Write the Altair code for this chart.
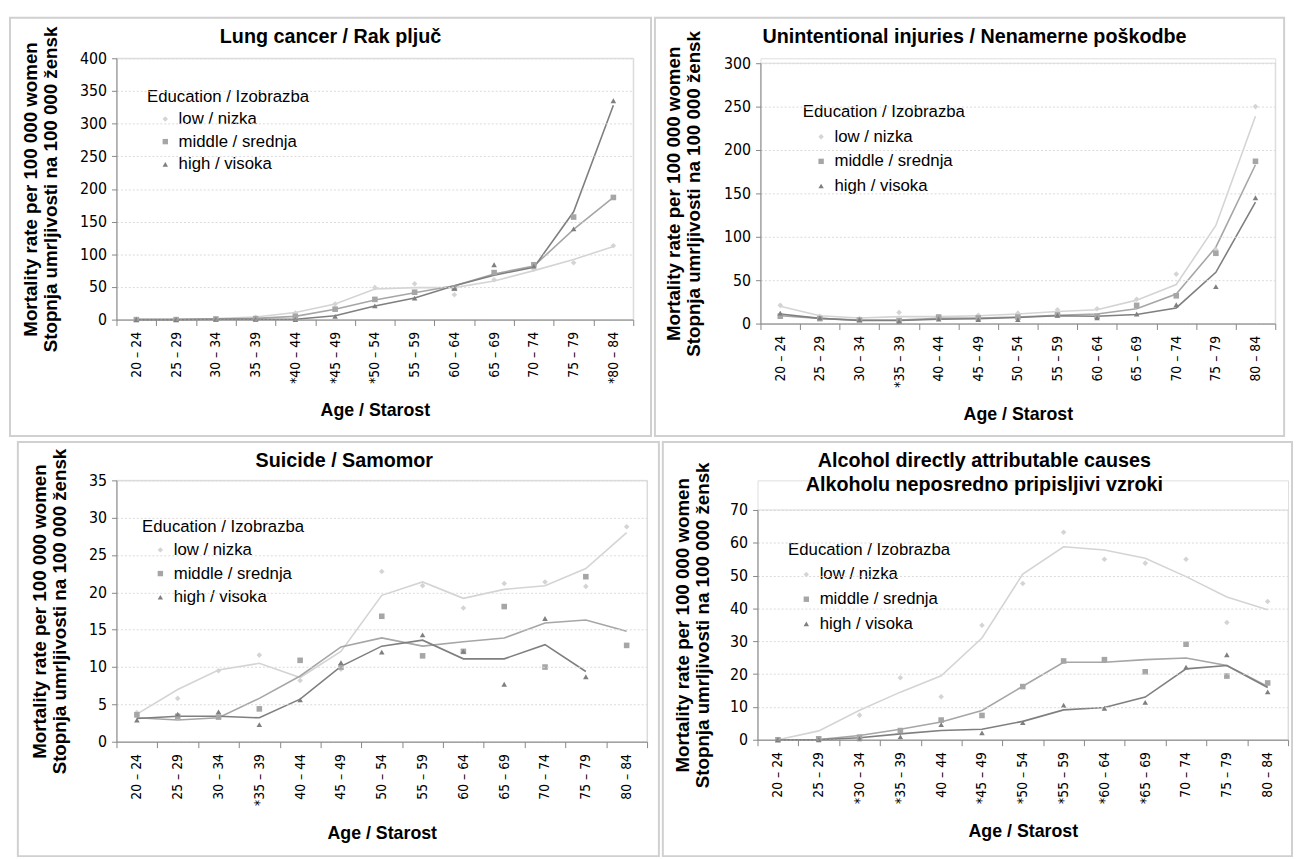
import altair as alt
import pandas as pd

SERIES = ["low / nizka", "middle / srednja", "high / visoka"]
LINE_KEYS = ["low", "middle", "high"]
MARK_COLORS = ["#d4d4d4", "#a6a6a6", "#7f7f7f"]
LINE_COLORS = ["#d4d4d4", "#a6a6a6", "#7f7f7f"]
SHAPES = ["diamond", "square", "triangle-up"]

AGES_LUNG = ["20 – 24", "25 – 29", "30 – 34", "35 – 39", "*40 – 44", "*45 – 49", "*50 – 54",
             "55 – 59", "60 – 64", "65 – 69", "70 – 74", "75 – 79", "*80 – 84"]
AGES_INJ = ["20 – 24", "25 – 29", "30 – 34", "*35 – 39", "40 – 44", "45 – 49", "50 – 54",
            "55 – 59", "60 – 64", "65 – 69", "70 – 74", "75 – 79", "80 – 84"]
AGES_SUI = ["20 – 24", "25 – 29", "30 – 34", "*35 – 39", "40 – 44", "45 – 49", "50 – 54",
            "55 – 59", "60 – 64", "65 – 69", "70 – 74", "75 – 79", "80 – 84"]
AGES_ALC = ["20 – 24", "25 – 29", "*30 – 34", "*35 – 39", "40 – 44", "*45 – 49", "*50 – 54",
            "*55 – 59", "*60 – 64", "*65 – 69", "70 – 74", "75 – 79", "80 – 84"]

LUNG_LOW = [0.5, 0.5, 1.5, 3.5, 10, 24, 49, 55, 38, 61, 77, 87, 113]
LUNG_LOW_T = [0.5, 0.7, 1.5, 4, 11, 24, 47, 49, 49, 59, 75, 92, 112]
LUNG_MID = [0, 0, 1, 1.5, 5, 16, 31, 42, 48, 72, 84, 157, 187]
LUNG_MID_T = [0, 0, 1, 2, 5, 16, 30, 41, 52, 70, 82, 138, 187]
LUNG_HIGH = [0, 0, 0.5, 0.5, 0, 5, 21, 33, 48, 84, 82, 139, 335]
LUNG_HIGH_T = [0, 0, 0.5, 0.5, 0.5, 6, 21, 33, 52, 68, 80, 165, 328]

INJ_LOW = [21, 8.4, 5.7, 12.9, 8, 9.5, 12, 16, 17, 28, 57, 85, 250]
INJ_LOW_T = [20, 9, 6.5, 8, 8, 9, 11, 14, 16, 27, 45, 113, 239]
INJ_MID = [8.5, 5.7, 4, 3.5, 7.5, 6.5, 7.5, 10, 8.5, 21, 32, 81, 187]
INJ_MID_T = [9, 6, 4, 4, 6, 6.5, 7.5, 9.5, 11, 17, 34, 88, 183]
INJ_HIGH = [12, 6.5, 4.5, 2.7, 5.3, 4.5, 4.5, 9.5, 6.5, 11, 21.7, 42.6, 145]
INJ_HIGH_T = [11, 6, 3.5, 3.5, 5, 5.5, 7, 9, 8.5, 10.5, 18, 59, 140]

SUI_LOW = [3.9, 5.8, 9.5, 11.6, 8.2, 9.7, 22.8, 20.9, 17.9, 21.2, 21.4, 20.8, 28.8]
SUI_LOW_T = [3.7, 7.0, 9.6, 10.5, 8.6, 12.1, 19.6, 21.4, 19.2, 20.4, 20.9, 23.2, 28.0]
SUI_MID = [3.6, 3.4, 3.3, 4.4, 10.9, 10.0, 16.8, 11.5, 12.1, 18.1, 10.0, 22.1, 12.9]
SUI_MID_T = [3.2, 2.9, 3.2, 5.8, 8.8, 12.7, 13.9, 12.8, 13.4, 13.9, 15.9, 16.3, 14.8]
SUI_HIGH = [2.9, 3.7, 4.0, 2.3, 5.6, 10.6, 12.0, 14.3, 12.1, 7.7, 16.5, 8.7, None]
SUI_HIGH_T = [3.1, 3.4, 3.4, 3.2, 5.7, 10.1, 12.8, 13.6, 11.1, 11.1, 13.0, 9.4, None]

ALC_LOW = [0, 0, 7.5, 18.9, 13.1, 34.9, 47.6, 63.2, 55.0, 53.8, 55.0, 35.7, 42.1]
ALC_LOW_T = [0, 2.7, 9, 14.5, 19.5, 31, 50.5, 58.8, 57.8, 55.3, 49.7, 43.5, 39.6]
ALC_MID = [0, 0.3, 0.8, 2.8, 6, 7.4, 16.2, 24.0, 24.4, 20.7, 29.1, 19.4, 17.3]
ALC_MID_T = [0, 0.1, 1.3, 3.2, 5.4, 8.9, 16.3, 23.6, 23.6, 24.4, 24.9, 22.6, 16.2]
ALC_HIGH = [0, 0, 0.3, 0.9, 4.6, 2.1, 5.2, 10.5, 9.6, 11.4, 22.1, 25.9, 14.6]
ALC_HIGH_T = [0, 0, 0.6, 1.8, 2.8, 3.2, 5.6, 9.1, 9.8, 13.0, 21.6, 22.6, 15.9]

TITLES = ["Lung cancer / Rak pljuč",
          "Unintentional injuries / Nenamerne poškodbe",
          "Suicide / Samomor",
          "Alcohol directly attributable causes\nAlkoholu neposredno pripisljivi vzroki"]
Y_TITLE = ["Mortality rate per 100 000 women", "Stopnja umrljivosti na 100 000 žensk"]
X_TITLE = "Age / Starost"
LEGEND_TITLE = "Education / Izobrazba"

NARROW = "DejaVu Sans Condensed, Liberation Sans Narrow, Liberation Sans, sans-serif"
ARIAL = "Liberation Sans, Arial, sans-serif"


def build_df(ages, marks, trends):
    rows = []
    for s, k, mv, tv in zip(SERIES, LINE_KEYS, marks, trends):
        for a, m, t in zip(ages, mv, tv):
            rows.append({"age": a, "series": s, "line": k, "value": m, "trend": t})
    return pd.DataFrame(rows)


def panel(ages, marks, trends, title, ymax, ystep, width, height, top, box, legend_xy,
          ytitle_x, title_xy):
    df = build_df(ages, marks, trends)
    yvals = list(range(0, ymax + 1, ystep))
    xenc = alt.X("age:N", sort=ages,
                 scale=alt.Scale(type="band", paddingInner=0, paddingOuter=0),
                 axis=alt.Axis(title=X_TITLE, labelAngle=270, tickBand="extent",
                               labelFont=NARROW, labelFontSize=14, labelColor="#000",
                               labelPadding=6, tickSize=6, tickColor="#868686",
                               domainColor="#868686", grid=False, zindex=1,
                               titleFont=ARIAL, titleFontSize=18, titleFontWeight="bold",
                               titleColor="#000", titlePadding=19))
    yaxis = alt.Axis(title=Y_TITLE, values=yvals, grid=True, gridColor="#d9d9d9",
                     gridDash=[2, 2], domainColor="#868686", tickColor="#868686",
                     tickSize=5, labelFont=NARROW, labelFontSize=16, labelColor="#000",
                     labelPadding=5, titleFont=ARIAL, titleFontSize=19, zindex=1,
                     titleFontWeight="bold", titleColor="#000", titleAngle=270,
                     titleX=ytitle_x, titleY=(height + top) / 2, titleBaseline="middle",
                     titleAlign="center", titleLineHeight=20)
    yscale = alt.Scale(domain=[0, ymax], nice=False, zero=True, range=[height, top])
    base = alt.Chart(df)
    lines = base.mark_line(strokeWidth=1.6).encode(
        x=xenc,
        y=alt.Y("trend:Q", scale=yscale, axis=yaxis),
        stroke=alt.Stroke("line:N", scale=alt.Scale(domain=LINE_KEYS, range=LINE_COLORS),
                          legend=None),
    )
    leg = alt.Legend(title=LEGEND_TITLE, orient="none", legendX=legend_xy[0],
                     legendY=legend_xy[1], titleFont=ARIAL, titleFontSize=17,
                     titleFontWeight="normal", titleColor="#000", labelFont=ARIAL,
                     labelFontSize=17, labelColor="#000", symbolSize=30,
                     symbolOffset=10, labelOffset=5, rowPadding=legend_xy[2],
                     titlePadding=legend_xy[2])
    points = base.mark_point(filled=True, size=32, opacity=1).encode(
        x=xenc,
        y=alt.Y("value:Q", scale=yscale, axis=yaxis),
        color=alt.Color("series:N", scale=alt.Scale(domain=SERIES, range=MARK_COLORS),
                        legend=leg),
        shape=alt.Shape("series:N", scale=alt.Scale(domain=SERIES, range=SHAPES),
                        legend=leg),
    )
    one = alt.Chart(pd.DataFrame({"t": [title]}))
    frame = one.mark_rect(filled=False, stroke="#d0d0d0", strokeWidth=2).encode(
        x=alt.value(box[0]), x2=alt.value(box[1]), y=alt.value(box[2]), y2=alt.value(box[3]))
    plotbox = one.mark_rect(filled=False, stroke="#d9d9d9", strokeWidth=1).encode(
        x=alt.value(0), x2=alt.value(width), y=alt.value(top), y2=alt.value(height))
    ttl = one.mark_text(font=ARIAL, fontSize=20, fontWeight="bold", color="#000",
                        align="center", baseline="middle", lineBreak="\n",
                        lineHeight=25).encode(
        x=alt.value(title_xy[0]), y=alt.value(title_xy[1]), text="t:N")
    return alt.layer(frame, plotbox, ttl, lines, points).properties(width=width, height=height)


lung = panel(AGES_LUNG, [LUNG_LOW, LUNG_MID, LUNG_HIGH],
             [LUNG_LOW_T, LUNG_MID_T, LUNG_HIGH_T], TITLES[0],
             400, 50, 524, 265, 0, (-108, 542, -41, 383), (31, 31, 5), -87, (217, -21))
inj = panel(AGES_INJ, [INJ_LOW, INJ_MID, INJ_HIGH],
            [INJ_LOW_T, INJ_MID_T, INJ_HIGH_T], TITLES[1],
            300, 50, 522, 269, 5, (-107, 531, -41, 383), (43, 47, 7), -88, (217, -21))
sui = panel(AGES_SUI, [SUI_LOW, SUI_MID, SUI_HIGH],
            [SUI_LOW_T, SUI_MID_T, SUI_HIGH_T], TITLES[2],
            35, 5, 538, 265, 0, (-100, 550, -39, 381), (26, 39, 6), -78, (231, -20))
alc = panel(AGES_ALC, [ALC_LOW, ALC_MID, ALC_HIGH],
            [ALC_LOW_T, ALC_MID_T, ALC_HIGH_T], TITLES[3],
            70, 10, 538, 263, 30, (-96, 542, -39, 381), (31, 63, 7), -76, (230, -20))

RES = dict(color="independent", shape="independent", stroke="independent",
           x="independent", y="independent")
top = alt.hconcat(lung, inj, spacing=0).resolve_scale(**RES).resolve_legend(
    color="independent", shape="independent")
bottom = alt.hconcat(sui, alc, spacing=0).resolve_scale(**RES).resolve_legend(
    color="independent", shape="independent")
chart = alt.vconcat(top, bottom, spacing=2).resolve_scale(**RES).resolve_legend(
    color="independent", shape="independent"
).properties(
    padding={"left": 0, "top": 2, "right": 0, "bottom": 0}
).configure_view(strokeWidth=0).configure(background="white")

chart.save("out.html", embed_options={"renderer": "svg", "actions": False})
